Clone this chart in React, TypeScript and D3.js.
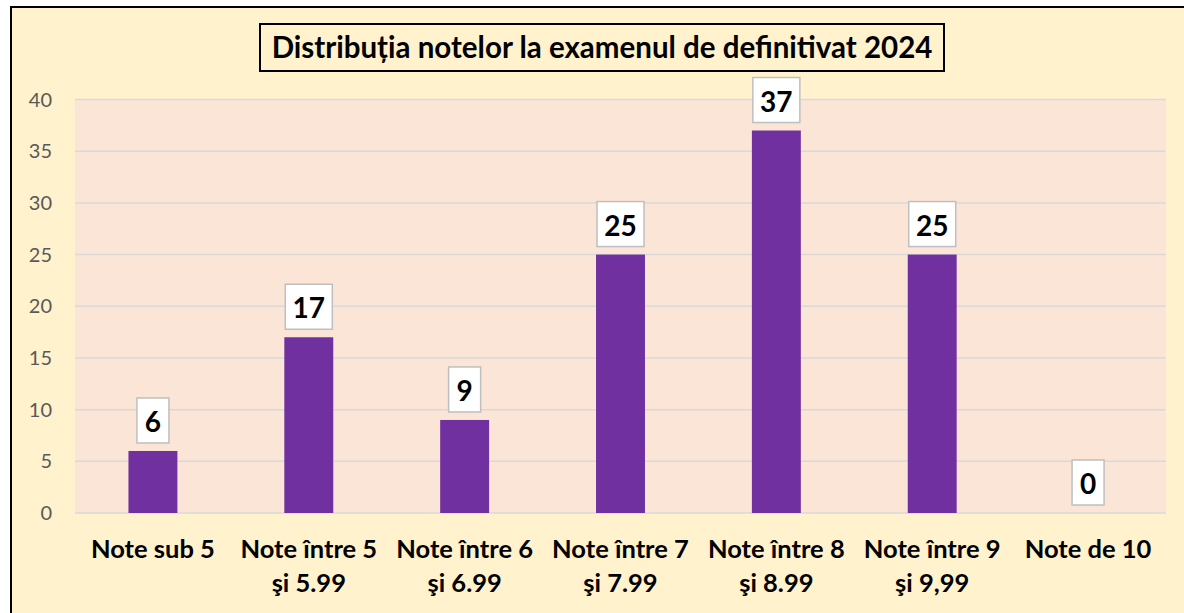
import React, { useEffect, useRef } from 'react';
import * as d3 from 'd3';

const categories = [
  ['Note sub 5'],
  ['Note între 5', 'şi 5.99'],
  ['Note între 6', 'şi 6.99'],
  ['Note între 7', 'şi 7.99'],
  ['Note între 8', 'şi 8.99'],
  ['Note între 9', 'şi 9,99'],
  ['Note de 10'],
];
const values = [6, 17, 9, 25, 37, 25, 0];
const yTicks = [0, 5, 10, 15, 20, 25, 30, 35, 40];
const title = 'Distribuția notelor la examenul de definitivat 2024';

const W = 1184;
const H = 613;
const FONT = 'Lato, "Open Sans", sans-serif';

export default function App() {
  const ref = useRef<SVGSVGElement>(null);

  useEffect(() => {
    const svg = d3.select(ref.current);
    svg.selectAll('*').remove();

    const left = 75, right = 1166, top = 99.5, bottom = 513;

    // outer frame
    svg.append('rect').attr('x', 0).attr('y', 0).attr('width', W).attr('height', H).attr('fill', '#fff');
    svg.append('rect')
      .attr('x', 11).attr('y', 7).attr('width', W + 20).attr('height', H + 20)
      .attr('fill', '#FFF2CC').attr('stroke', '#000').attr('stroke-width', 2);

    const x = d3.scaleBand<number>()
      .domain(d3.range(values.length))
      .range([left, right])
      .paddingInner(0.686)
      .paddingOuter(0.343);
    const y = d3.scaleLinear().domain([0, 40]).range([bottom, top]);

    // plot area
    svg.append('rect')
      .attr('x', left).attr('y', top).attr('width', right - left).attr('height', bottom - top)
      .attr('fill', '#FBE5D6');

    svg.append('g').selectAll('line').data(yTicks).enter().append('line')
      .attr('x1', left).attr('x2', right)
      .attr('y1', d => y(d)).attr('y2', d => y(d))
      .attr('stroke', '#D9D9D9').attr('stroke-width', 1.5);

    svg.append('g').selectAll('text').data(yTicks).enter().append('text')
      .attr('x', 52).attr('y', d => y(d) + 7)
      .attr('text-anchor', 'end')
      .attr('font-family', FONT).attr('font-size', 20).attr('fill', '#595959')
      .text(d => d);

    // bars
    svg.append('g').selectAll('rect').data(values).enter().append('rect')
      .attr('x', (d, i) => x(i)!)
      .attr('y', d => y(d))
      .attr('width', x.bandwidth())
      .attr('height', d => bottom - y(d))
      .attr('fill', '#7030A0');

    // data labels
    const lab = svg.append('g').selectAll('g').data(values).enter().append('g')
      .attr('transform', (d, i) => `translate(${x(i)! + x.bandwidth() / 2},${y(d) - 8})`);
    lab.append('rect')
      .attr('x', d => -(String(d).length * 7.5 + 8.5))
      .attr('y', -45)
      .attr('width', d => String(d).length * 15 + 17)
      .attr('height', 45)
      .attr('fill', '#fff').attr('stroke', '#BFBFBF').attr('stroke-width', 1.5);
    lab.append('text')
      .attr('y', -11)
      .attr('text-anchor', 'middle')
      .attr('font-family', FONT).attr('font-weight', 'bold').attr('font-size', 28)
      .text(d => d);

    // category labels
    const cat = svg.append('g').selectAll('text').data(categories).enter().append('text')
      .attr('text-anchor', 'middle')
      .attr('font-family', FONT).attr('font-weight', 'bold').attr('font-size', 25.5)
      .attr('fill', '#000');
    cat.each(function (d, i) {
      const cx = x(i)! + x.bandwidth() / 2;
      d3.select(this).selectAll('tspan').data(d).enter().append('tspan')
        .attr('x', cx)
        .attr('y', (s, j) => 558 + j * 34)
        .text(s => s);
    });

    // title
    svg.append('rect')
      .attr('x', 260).attr('y', 24).attr('width', 684).attr('height', 47)
      .attr('fill', 'none').attr('stroke', '#000').attr('stroke-width', 2);
    svg.append('text')
      .attr('x', 602).attr('y', 58)
      .attr('text-anchor', 'middle')
      .attr('font-family', FONT).attr('font-weight', 'bold').attr('font-size', 29.5)
      .text(title);
  }, []);

  return (
    <svg ref={ref} width={W} height={H} style={{ position: 'absolute', left: 0, top: 0 }} />
  );
}
